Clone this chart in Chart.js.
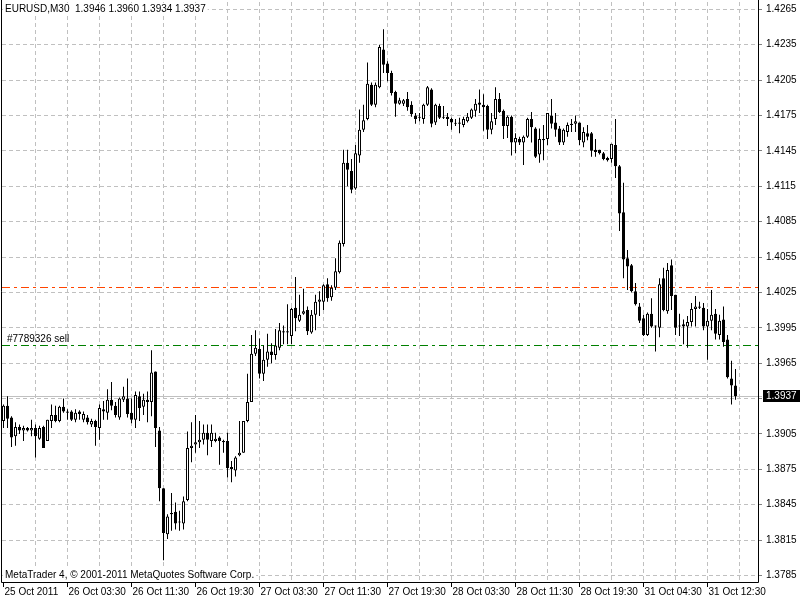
<!DOCTYPE html>
<html>
<head>
<meta charset="utf-8">
<title>EURUSD,M30</title>
<script src="https://cdn.jsdelivr.net/npm/chart.js@4.4.0/dist/chart.umd.min.js"></script>
<style>
    html, body { margin: 0; padding: 0; background: #ffffff; }
    #wrap { width: 800px; height: 600px; }
</style>
</head>
<body>
<div id="wrap"><canvas id="chart" width="800" height="600"></canvas></div>
<script>
// EURUSD M30, 184 bars from 25 Oct 2011 19:30 to 31 Oct 2011 16:00
const opens = [
    1.3916, 1.3929, 1.3919, 1.3903, 1.3911, 1.3908, 1.3910, 1.3908, 1.3910, 1.3901,
    1.3911, 1.3899, 1.3916, 1.3921, 1.3916, 1.3928, 1.3924, 1.3924, 1.3917, 1.3924,
    1.3917, 1.3919, 1.3913, 1.3916, 1.3910, 1.3926, 1.3923, 1.3934, 1.3929, 1.3919,
    1.3934, 1.3935, 1.3923, 1.3917, 1.3937, 1.3928, 1.3934, 1.3932, 1.3958, 1.3908,
    1.3859, 1.3820, 1.3837, 1.3839, 1.3830, 1.3829, 1.3849, 1.3893, 1.3896, 1.3898,
    1.3900, 1.3906, 1.3899, 1.3899, 1.3902, 1.3899, 1.3899, 1.3877, 1.3874, 1.3887,
    1.3889, 1.3916, 1.3932, 1.3973, 1.3977, 1.3956, 1.3968, 1.3975, 1.3972, 1.3978,
    1.3992, 1.3991, 1.3988, 1.4012, 1.4001, 1.4007, 1.4010, 1.3991, 1.4006, 1.4017,
    1.4017, 1.4032, 1.4021, 1.4029, 1.4042, 1.4066, 1.4135, 1.4128, 1.4113, 1.4141,
    1.4163, 1.4172, 1.4201, 1.4184, 1.4199, 1.4231, 1.4219, 1.4211, 1.4195, 1.4185,
    1.4185, 1.4189, 1.4184, 1.4175, 1.4173, 1.4172, 1.4184, 1.4197, 1.4169, 1.4183,
    1.4174, 1.4174, 1.4172, 1.4168, 1.4169, 1.4167, 1.4170, 1.4173, 1.4179, 1.4186,
    1.4184, 1.4183, 1.4163, 1.4172, 1.4189, 1.4179, 1.4166, 1.4174, 1.4152, 1.4155,
    1.4152, 1.4157, 1.4172, 1.4164, 1.4142, 1.4154, 1.4155, 1.4175, 1.4169, 1.4164,
    1.4152, 1.4161, 1.4167, 1.4168, 1.4169, 1.4152, 1.4160, 1.4160, 1.4146, 1.4146,
    1.4143, 1.4139, 1.4138, 1.4150, 1.4132, 1.4093, 1.4054, 1.4048, 1.4026, 1.4013,
    1.4003, 1.3989, 1.4007, 1.3996, 1.3995, 1.4037, 1.4009, 1.4048, 1.4023, 1.3996,
    1.3998, 1.3996, 1.4000, 1.4011, 1.4013, 1.4012, 1.3996, 1.4001, 1.4007, 1.3989,
    1.4002, 1.3985, 1.3952, 1.3946
];
const highs = [
    1.3930, 1.3937, 1.3920, 1.3915, 1.3913, 1.3912, 1.3911, 1.3917, 1.3913, 1.3912,
    1.3912, 1.3917, 1.3930, 1.3929, 1.3929, 1.3935, 1.3926, 1.3925, 1.3926, 1.3925,
    1.3924, 1.3921, 1.3918, 1.3917, 1.3930, 1.3933, 1.3943, 1.3949, 1.3932, 1.3936,
    1.3945, 1.3952, 1.3935, 1.3941, 1.3941, 1.3939, 1.3941, 1.3976, 1.3958, 1.3911,
    1.3859, 1.3837, 1.3855, 1.3847, 1.3840, 1.3852, 1.3907, 1.3915, 1.3921, 1.3916,
    1.3913, 1.3913, 1.3913, 1.3906, 1.3903, 1.3900, 1.3906, 1.3882, 1.3886, 1.3916,
    1.3916, 1.3956, 1.3989, 1.3993, 1.3986, 1.3980, 1.3990, 1.3982, 1.3994, 1.3999,
    1.3997, 1.4015, 1.4012, 1.4038, 1.4023, 1.4028, 1.4013, 1.4010, 1.4023, 1.4026,
    1.4032, 1.4037, 1.4031, 1.4054, 1.4069, 1.4146, 1.4146, 1.4138, 1.4150, 1.4180,
    1.4184, 1.4220, 1.4203, 1.4203, 1.4235, 1.4248, 1.4221, 1.4213, 1.4196, 1.4190,
    1.4189, 1.4195, 1.4187, 1.4177, 1.4177, 1.4185, 1.4200, 1.4198, 1.4185, 1.4185,
    1.4183, 1.4177, 1.4173, 1.4172, 1.4173, 1.4174, 1.4177, 1.4181, 1.4189, 1.4197,
    1.4193, 1.4184, 1.4177, 1.4199, 1.4194, 1.4180, 1.4175, 1.4175, 1.4160, 1.4157,
    1.4158, 1.4173, 1.4178, 1.4165, 1.4164, 1.4167, 1.4177, 1.4189, 1.4177, 1.4166,
    1.4164, 1.4169, 1.4172, 1.4175, 1.4169, 1.4165, 1.4167, 1.4161, 1.4155, 1.4146,
    1.4144, 1.4140, 1.4151, 1.4172, 1.4133, 1.4118, 1.4061, 1.4049, 1.4033, 1.4016,
    1.4006, 1.4008, 1.4020, 1.3997, 1.4037, 1.4046, 1.4050, 1.4053, 1.4023, 1.4007,
    1.4002, 1.4005, 1.4016, 1.4022, 1.4017, 1.4016, 1.4011, 1.4027, 1.4011, 1.4006,
    1.4013, 1.3989, 1.3967, 1.3960
];
const lows = [
    1.3910, 1.3910, 1.3894, 1.3895, 1.3905, 1.3899, 1.3907, 1.3903, 1.3885, 1.3900,
    1.3893, 1.3899, 1.3910, 1.3915, 1.3915, 1.3923, 1.3917, 1.3916, 1.3915, 1.3917,
    1.3915, 1.3913, 1.3911, 1.3895, 1.3900, 1.3917, 1.3917, 1.3925, 1.3919, 1.3917,
    1.3932, 1.3919, 1.3914, 1.3910, 1.3916, 1.3921, 1.3915, 1.3920, 1.3894, 1.3848,
    1.3798, 1.3816, 1.3823, 1.3824, 1.3823, 1.3824, 1.3848, 1.3881, 1.3889, 1.3893,
    1.3896, 1.3887, 1.3894, 1.3898, 1.3879, 1.3889, 1.3868, 1.3864, 1.3869, 1.3886,
    1.3889, 1.3915, 1.3932, 1.3971, 1.3952, 1.3950, 1.3962, 1.3965, 1.3968, 1.3976,
    1.3981, 1.3981, 1.3981, 1.3992, 1.4000, 1.4006, 1.3989, 1.3990, 1.3993, 1.4005,
    1.4010, 1.4017, 1.4018, 1.4027, 1.4041, 1.4064, 1.4115, 1.4109, 1.4112, 1.4135,
    1.4161, 1.4171, 1.4183, 1.4182, 1.4198, 1.4211, 1.4204, 1.4192, 1.4174, 1.4184,
    1.4183, 1.4179, 1.4174, 1.4168, 1.4170, 1.4168, 1.4183, 1.4165, 1.4167, 1.4172,
    1.4172, 1.4166, 1.4163, 1.4166, 1.4160, 1.4165, 1.4169, 1.4172, 1.4174, 1.4177,
    1.4162, 1.4155, 1.4159, 1.4167, 1.4177, 1.4155, 1.4156, 1.4141, 1.4143, 1.4150,
    1.4133, 1.4156, 1.4152, 1.4139, 1.4135, 1.4137, 1.4150, 1.4164, 1.4157, 1.4150,
    1.4150, 1.4157, 1.4161, 1.4161, 1.4150, 1.4148, 1.4154, 1.4140, 1.4140, 1.4142,
    1.4137, 1.4136, 1.4135, 1.4122, 1.4077, 1.4037, 1.4027, 1.4025, 1.4014, 1.3999,
    1.3988, 1.3988, 1.3995, 1.3975, 1.3987, 1.4009, 1.4007, 1.4010, 1.3989, 1.3988,
    1.3981, 1.3978, 1.3996, 1.3996, 1.4011, 1.3993, 1.3968, 1.3993, 1.3985, 1.3985,
    1.3979, 1.3952, 1.3930, 1.3934
];
const closes = [
    1.3929, 1.3918, 1.3902, 1.3911, 1.3908, 1.3910, 1.3908, 1.3910, 1.3903, 1.3910,
    1.3893, 1.3917, 1.3921, 1.3916, 1.3928, 1.3924, 1.3923, 1.3917, 1.3923, 1.3922,
    1.3922, 1.3915, 1.3916, 1.3911, 1.3927, 1.3924, 1.3934, 1.3929, 1.3921, 1.3935,
    1.3937, 1.3922, 1.3917, 1.3938, 1.3927, 1.3934, 1.3932, 1.3957, 1.3910, 1.3859,
    1.3821, 1.3835, 1.3838, 1.3829, 1.3830, 1.3848, 1.3893, 1.3895, 1.3898, 1.3900,
    1.3906, 1.3900, 1.3906, 1.3901, 1.3899, 1.3898, 1.3876, 1.3875, 1.3885, 1.3889,
    1.3916, 1.3932, 1.3973, 1.3978, 1.3956, 1.3968, 1.3975, 1.3972, 1.3980, 1.3993,
    1.3991, 1.3992, 1.4011, 1.4003, 1.4006, 1.4009, 1.3992, 1.4006, 1.4017, 1.4019,
    1.4031, 1.4020, 1.4029, 1.4043, 1.4067, 1.4135, 1.4129, 1.4112, 1.4143, 1.4163,
    1.4171, 1.4202, 1.4184, 1.4201, 1.4233, 1.4218, 1.4211, 1.4194, 1.4185, 1.4188,
    1.4188, 1.4182, 1.4176, 1.4172, 1.4173, 1.4184, 1.4199, 1.4168, 1.4184, 1.4173,
    1.4173, 1.4172, 1.4169, 1.4168, 1.4168, 1.4172, 1.4174, 1.4180, 1.4185, 1.4184,
    1.4182, 1.4163, 1.4170, 1.4189, 1.4178, 1.4166, 1.4174, 1.4152, 1.4156, 1.4152,
    1.4157, 1.4172, 1.4165, 1.4140, 1.4155, 1.4155, 1.4177, 1.4168, 1.4163, 1.4152,
    1.4163, 1.4167, 1.4168, 1.4170, 1.4154, 1.4161, 1.4157, 1.4145, 1.4144, 1.4143,
    1.4138, 1.4137, 1.4151, 1.4132, 1.4092, 1.4053, 1.4047, 1.4026, 1.4015, 1.4001,
    1.3989, 1.4007, 1.3996, 1.3996, 1.4032, 1.4010, 1.4044, 1.4022, 1.3995, 1.3996,
    1.3996, 1.4000, 1.4011, 1.4013, 1.4012, 1.3996, 1.4001, 1.4006, 1.3990, 1.4001,
    1.3983, 1.3953, 1.3946, 1.3937
];

// axis labels (one x label every 16 bars, price grid every 30 points)
const xTickLabels = ['25 Oct 2011', '26 Oct 03:30', '26 Oct 11:30', '26 Oct 19:30', '27 Oct 03:30', '27 Oct 11:30',
    '27 Oct 19:30', '28 Oct 03:30', '28 Oct 11:30', '28 Oct 19:30', '31 Oct 04:30', '31 Oct 12:30'];
const yTicks = [1.3785, 1.3815, 1.3845, 1.3875, 1.3905, 1.3935, 1.3965, 1.3995, 1.4025,
    1.4055, 1.4085, 1.4115, 1.4145, 1.4175, 1.4205, 1.4235, 1.4265];

// horizontal levels
const bidPrice = 1.3937;
const orderPrice = 1.3980;
const stopPrice = 1.4030;
const orderLabel = '#7789326 sell';
const titleText = 'EURUSD,M30  1.3946 1.3960 1.3934 1.3937';
const copyText = 'MetaTrader 4, \u00a9 2001-2011 MetaQuotes Software Corp.';

const FONT_FAMILY = "'Liberation Sans', Arial, sans-serif";
const GRID = '#c0c0c0';

const gridBars = Array.from({ length: 24 }, (_, k) => k * 8);

Chart.defaults.font.family = FONT_FAMILY;
Chart.defaults.font.size = 10;
Chart.defaults.color = '#000';

function hline(ctx, x0, x1, y, color, dash) {
    const yy = Math.round(y) + 0.5;
    ctx.save();
    ctx.strokeStyle = color;
    ctx.lineWidth = 1;
    ctx.setLineDash(dash);
    ctx.beginPath();
    ctx.moveTo(x0, yy);
    ctx.lineTo(x1, yy);
    ctx.stroke();
    ctx.restore();
}

function boxedText(ctx, text, x, y) {
    const w = ctx.measureText(text).width;
    ctx.fillStyle = '#fff';
    ctx.fillRect(x - 2, y - 6, w + 4, 12);
    ctx.fillStyle = '#000';
    ctx.fillText(text, x, y);
}

// no extra room for edge labels: the plot must fill 2..758 x 2..582
function noEdgePadding(s) {
    s.paddingTop = 0;
    s.paddingBottom = 0;
    s.paddingLeft = 0;
    s.paddingRight = 0;
}

const mt4Overlay = {
    id: 'mt4Overlay',
    beforeDatasetsDraw(chart) {
        const { ctx, chartArea: a, scales: { y } } = chart;
        hline(ctx, a.left, a.right + 4, y.getPixelForValue(bidPrice), '#c0c0c0', []);
        hline(ctx, a.left, a.right, y.getPixelForValue(stopPrice), '#ff4500', [8, 4, 3, 4]);
        hline(ctx, a.left, a.right, y.getPixelForValue(orderPrice), '#008000', [8, 4, 3, 4]);
    },
    afterDraw(chart) {
        const { ctx, chartArea: a, scales: { y } } = chart;
        ctx.save();
        // frame
        ctx.strokeStyle = '#000';
        ctx.lineWidth = 1;
        ctx.beginPath();
        ctx.moveTo(1.5, 0);
        ctx.lineTo(1.5, a.bottom + 0.5);
        ctx.lineTo(a.right + 0.5, a.bottom + 0.5);
        ctx.lineTo(a.right + 0.5, 0);
        ctx.stroke();

        ctx.font = '10px ' + FONT_FAMILY;
        ctx.textBaseline = 'middle';
        ctx.textAlign = 'left';
        boxedText(ctx, titleText, 5, 9);
        boxedText(ctx, copyText, 5, 575);

        ctx.fillStyle = '#000';
        ctx.fillText(orderLabel, 7, y.getPixelForValue(orderPrice) - 6);

        // current price tag
        const py = Math.round(y.getPixelForValue(bidPrice));
        ctx.fillStyle = '#000';
        ctx.fillRect(a.right + 5, py - 6, 800 - a.right - 5, 12);
        ctx.fillStyle = '#fff';
        ctx.fillText(bidPrice.toFixed(4), a.right + 8, py + 0.5);
        ctx.restore();
    }
};

new Chart(document.getElementById('chart'), {
    type: 'bar',
    data: {
        datasets: [{
            label: 'body',
            data: opens.map((o, i) => ({ x: i, y: [o, closes[i]] })),
            backgroundColor: opens.map((o, i) => (closes[i] >= o ? '#ffffff' : '#000000')),
            borderColor: '#000000',
            borderWidth: 1,
            borderSkipped: false,
            barThickness: 3,
            minBarLength: 1,
            inflateAmount: 0,
            grouped: false,
            order: 0
        }, {
            label: 'wick',
            data: lows.map((l, i) => ({ x: i, y: [l, highs[i]] })),
            backgroundColor: '#000000',
            borderWidth: 0,
            barThickness: 1,
            minBarLength: 1,
            inflateAmount: 0,
            grouped: false,
            order: 1
        }]
    },
    options: {
        responsive: false,
        animation: false,
        events: [],
        layout: { padding: { left: 2, top: 2, right: 0, bottom: 0 } },
        plugins: {
            legend: { display: false },
            tooltip: { enabled: false }
        },
        scales: {
            x: {
                type: 'linear',
                position: 'bottom',
                offset: false,
                min: -0.375,
                max: 188.625,
                afterBuildTicks: (s) => { s.ticks = gridBars.map((v) => ({ value: v })); },
                afterFit: (s) => { s.height = 18; noEdgePadding(s); },
                ticks: {
                    autoSkip: false,
                    maxRotation: 0,
                    align: 'start',
                    labelOffset: 1,
                    padding: 0,
                    font: { size: 10, lineHeight: 1 },
                    callback: (v) => (v % 16 === 0 ? xTickLabels[v / 16] : '')
                },
                grid: {
                    offset: false,
                    color: (c) => (c.index === 0 ? 'rgba(0,0,0,0)' : GRID),
                    lineWidth: 1,
                    tickLength: 5,
                    tickColor: (c) => (c.tick && c.tick.value % 16 === 0 ? '#000' : 'rgba(0,0,0,0)'),
                    tickBorderDash: []
                },
                border: { display: false, dash: [4, 3] }
            },
            y: {
                type: 'linear',
                position: 'right',
                min: 1.37795,
                max: 1.42712,
                afterBuildTicks: (s) => { s.ticks = yTicks.map((v) => ({ value: v })); },
                afterFit: (s) => { s.width = 42; noEdgePadding(s); },
                ticks: {
                    padding: 4,
                    crossAlign: 'near',
                    font: { size: 10 },
                    callback: (v) => v.toFixed(4)
                },
                grid: {
                    color: GRID,
                    lineWidth: 1,
                    tickLength: 4,
                    tickColor: '#808080',
                    tickBorderDash: []
                },
                border: { display: false, dash: [4, 3] }
            }
        }
    },
    plugins: [mt4Overlay]
});
</script>
</body>
</html>
